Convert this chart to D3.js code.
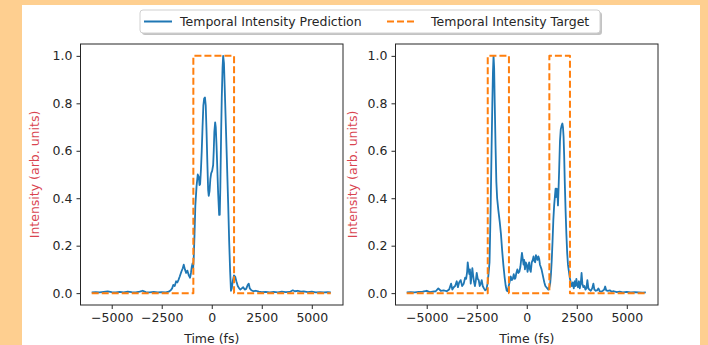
<!DOCTYPE html>
<html>
<head>
<meta charset="utf-8">
<script src="https://cdn.jsdelivr.net/npm/d3@7"></script>
<style>
  html, body { margin: 0; padding: 0; background: #fecf90; }
  svg { display: block; }
  text { font-family: "DejaVu Sans", sans-serif; }
</style>
</head>
<body>
<svg id="chart" width="708" height="345"></svg>
<script>
// time ticks (fs) and intensity ticks
const xTicks = [-5000, -2500, 0, 2500, 5000];
const yTicks = [0, 0.2, 0.4, 0.6, 0.8, 1.0];

// left panel
const predLeftT = [-6000,-5800,-5600,-5400,-5200,-5000,-4800,-4600,-4400,-4200,-4000,-3800,-3600,-3450,-3300,-3100,-2900,-2700,-2500,-2300,-2150,
  -2050,-1980,-1920,-1850,-1780,-1720,-1667,-1600,-1520,-1450,-1400,-1340,-1280,-1220,-1150,-1083,-1040,-1000,-960,-930,-900,-860,-820,-760,-700,-650,-610,-580,-540,-500,-460,-420,-380,-340,-300,-260,-220,-180,-150,-110,-70,-30,
  20,70,100,130,170,200,240,280,320,370,400,430,470,500,540,570,610,650,700,760,820,870,920,960,1000,1050,1110,1170,1230,1300,1370,1430,1500,1570,1650,1720,1800,1850,1900,1980,2080,2200,2350,2500,2700,2900,3100,3300,3500,3700,3900,4050,4150,4300,4450,4600,4800,5000,5200,5400,5600,5800,5950];
const predLeftV = [0.003,0.004,0.003,0.005,0.007,0.004,0.003,0.005,0.003,0.006,0.004,0.003,0.006,0.01,0.004,0.003,0.005,0.003,0.004,0.003,0.006,
  0.012,0.02,0.035,0.03,0.05,0.045,0.055,0.07,0.09,0.105,0.12,0.1,0.085,0.095,0.075,0.065,0.085,0.11,0.125,0.105,0.15,0.25,0.37,0.45,0.5,0.49,0.455,0.46,0.52,0.6,0.7,0.79,0.82,0.825,0.79,0.68,0.55,0.435,0.41,0.43,0.48,0.505,
  0.515,0.54,0.6,0.68,0.72,0.7,0.62,0.52,0.42,0.33,0.33,0.45,0.68,0.82,0.95,1.0,0.97,0.86,0.72,0.55,0.38,0.22,0.09,0.01,0.02,0.05,0.075,0.07,0.05,0.03,0.02,0.015,0.02,0.025,0.015,0.018,0.035,0.04,0.02,0.012,0.008,0.01,0.006,0.004,0.005,0.003,0.005,0.003,0.006,0.004,0.005,0.012,0.008,0.01,0.006,0.007,0.004,0.006,0.003,0.004,0.003,0.004,0.003];
const targetLeftT = [-6000, -920, -920, 1115, 1115, 5950];
const targetLeftV = [0, 0, 1, 1, 0, 0];

// right panel
const predRightT = [-6000,-5800,-5600,-5400,-5200,-5000,-4850,-4700,-4550,-4420,-4300,-4150,-4000,-3880,-3780,-3720,-3650,-3580,-3500,-3440,-3380,-3300,-3230,-3150,-3080,-3030,-2980,-2950,-2910,-2870,-2840,-2800,-2760,-2720,-2680,-2640,-2590,-2550,-2500,-2450,-2400,-2350,-2300,-2250,-2200,-2140,-2080,-2020,
  -1960,-1900,-1860,-1830,-1800,-1760,-1720,-1690,-1660,-1630,-1600,-1560,-1520,-1480,-1420,-1350,-1290,-1230,-1170,-1110,-1050,-1000,-950,-900,-850,-800,-750,-700,-650,-600,-560,-520,-470,-420,-370,-320,-280,-240,-200,-160,-130,-90,-50,
  0,40,80,120,160,200,250,300,340,380,420,460,500,540,580,620,660,700,740,790,840,880,930,980,1030,1080,1130,1170,1210,1250,1290,1330,1370,1410,1440,1470,1500,1530,1560,1590,1620,1660,1700,1740,1780,1810,1840,1870,1900,1940,1980,2020,2060,2100,2150,2200,2250,2300,2350,2400,2440,2480,2520,2560,2610,2650,2700,2740,2780,2830,2880,2930,2980,3030,3080,3130,3200,3270,3330,3380,3450,3520,3580,3650,3720,3800,3870,3920,3970,4050,4150,4250,4350,4500,4650,4800,5000,5200,5400,5600,5800,5950];
const predRightV = [0.003,0.004,0.003,0.005,0.006,0.01,0.004,0.006,0.008,0.02,0.01,0.012,0.008,0.015,0.04,0.015,0.025,0.03,0.05,0.025,0.045,0.055,0.03,0.04,0.065,0.06,0.09,0.13,0.1,0.08,0.1,0.04,0.07,0.105,0.075,0.05,0.03,0.05,0.085,0.06,0.055,0.03,0.04,0.055,0.03,0.02,0.012,0.015,
  0.04,0.09,0.13,0.25,0.38,0.6,0.8,0.93,1.0,0.95,0.8,0.62,0.47,0.4,0.35,0.3,0.25,0.18,0.12,0.07,0.03,0.01,0.008,0.03,0.05,0.07,0.055,0.06,0.08,0.06,0.065,0.085,0.1,0.085,0.09,0.11,0.14,0.17,0.145,0.12,0.14,0.1,0.13,
  0.12,0.09,0.11,0.13,0.1,0.09,0.13,0.14,0.155,0.135,0.13,0.16,0.15,0.14,0.155,0.145,0.12,0.11,0.1,0.08,0.06,0.045,0.03,0.025,0.02,0.015,0.025,0.04,0.08,0.14,0.22,0.31,0.37,0.41,0.44,0.405,0.44,0.43,0.37,0.44,0.52,0.64,0.69,0.705,0.715,0.7,0.66,0.58,0.47,0.35,0.25,0.17,0.12,0.095,0.065,0.045,0.03,0.045,0.02,0.05,0.03,0.06,0.035,0.025,0.05,0.02,0.04,0.085,0.04,0.025,0.03,0.015,0.02,0.055,0.02,0.015,0.01,0.02,0.04,0.015,0.01,0.012,0.02,0.008,0.006,0.01,0.015,0.028,0.012,0.01,0.012,0.006,0.008,0.004,0.006,0.003,0.005,0.003,0.004,0.003,0.002,0.003];
const targetRightT = [-6000, -1950, -1950, -890, -890, 1130, 1130, 2160, 2160, 5950];
const targetRightV = [0, 0, 1, 1, 0, 0, 1, 1, 0, 0];

const legendLabels = ["Temporal Intensity Prediction", "Temporal Intensity Target"];
const colors = { pred: "#1f77b4", target: "#ff7f0e", label: "#d9434f", ink: "#262626" };

const svg = d3.select("#chart");

// white figure area
svg.append("rect").attr("x", 22).attr("y", 5).attr("width", 678).attr("height", 340).attr("fill", "#fff");

function drawPanel(left, predT, predV, targT, targV, labelX) {
  const top = 44, w = 262.5, h = 261;
  const x = d3.scaleLinear().domain([-6560, 6560]).range([left, left + w]);
  const y = d3.scaleLinear().domain([-0.05, 1.05]).range([top + h, top]);
  const g = svg.append("g");

  const line = d3.line().x(d => x(d[0])).y(d => y(d[1]));
  g.append("path")
    .datum(d3.zip(predT, predV))
    .attr("d", line)
    .attr("fill", "none")
    .attr("stroke", colors.pred)
    .attr("stroke-width", 1.8)
    .attr("stroke-linejoin", "round");
  g.append("path")
    .datum(d3.zip(targT, targV))
    .attr("d", line)
    .attr("fill", "none")
    .attr("stroke", colors.target)
    .attr("stroke-width", 2)
    .attr("stroke-dasharray", "7,3")
    .attr("stroke-linejoin", "round");

  const ax = g.append("g").attr("transform", `translate(0,${top + h})`)
    .call(d3.axisBottom(x).tickValues(xTicks).tickSize(4).tickPadding(4).tickFormat(d3.format("d")));
  const ay = g.append("g").attr("transform", `translate(${left},0)`)
    .call(d3.axisLeft(y).tickValues(yTicks).tickSize(4).tickPadding(4).tickFormat(d3.format(".1f")));
  [ax, ay].forEach(a => {
    a.select(".domain").remove();
    a.selectAll("line").attr("stroke", colors.ink);
    a.selectAll("text").attr("fill", colors.ink).style("font-size", "12.5px").style("font-family", "DejaVu Sans");
  });

  g.append("rect")
    .attr("x", left).attr("y", top).attr("width", w).attr("height", h)
    .attr("fill", "none").attr("stroke", colors.ink).attr("stroke-width", 1);

  g.append("text")
    .attr("x", x(0)).attr("y", 342.5)
    .attr("text-anchor", "middle")
    .attr("fill", colors.ink)
    .style("font-size", "12.5px")
    .text("Time (fs)");
  g.append("text")
    .attr("transform", `translate(${labelX},${top + h / 2}) rotate(-90)`)
    .attr("text-anchor", "middle")
    .attr("dy", "0.35em")
    .attr("fill", colors.label)
    .style("font-size", "12.5px")
    .text("Intensity (arb. units)");
}

drawPanel(80.5, predLeftT, predLeftV, targetLeftT, targetLeftV, 35);
drawPanel(395.5, predRightT, predRightV, targetRightT, targetRightV, 353);

// legend
const lg = svg.append("g");
lg.append("rect").attr("x", 142).attr("y", 12).attr("width", 460).attr("height", 23).attr("rx", 3)
  .attr("fill", "#888").attr("opacity", 0.5);
lg.append("rect").attr("x", 140).attr("y", 10).attr("width", 460).attr("height", 23).attr("rx", 3)
  .attr("fill", "#fff").attr("stroke", "#d0d0d0").attr("stroke-width", 1);
const items = [
  { label: legendLabels[0], color: colors.pred, dash: null, hx: 144, tx: 180 },
  { label: legendLabels[1], color: colors.target, dash: "7,3", hx: 387, tx: 431 }
];
items.forEach(it => {
  lg.append("line").attr("x1", it.hx).attr("x2", it.hx + 28).attr("y1", 21.5).attr("y2", 21.5)
    .attr("stroke", it.color).attr("stroke-width", 2).attr("stroke-dasharray", it.dash);
  lg.append("text").attr("x", it.tx).attr("y", 21.5).attr("dy", "0.35em")
    .attr("fill", colors.ink).style("font-size", "12.5px").text(it.label);
});
</script>
</body>
</html>
